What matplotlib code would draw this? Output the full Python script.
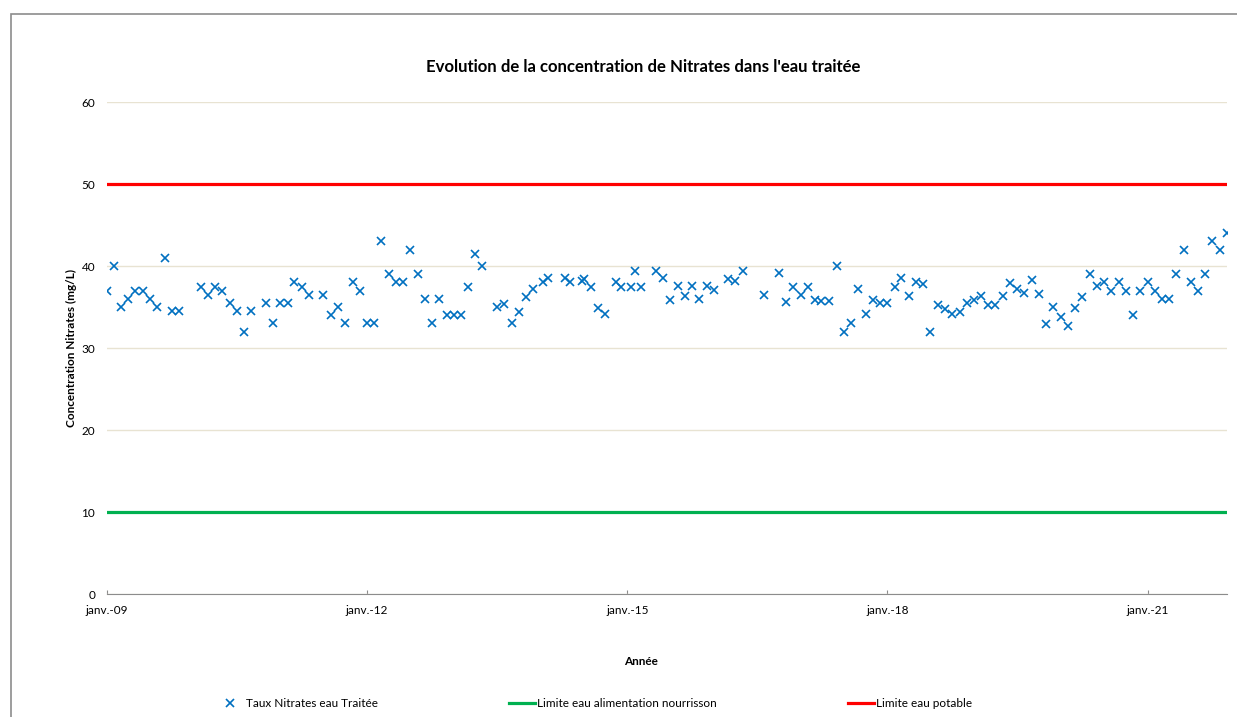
import matplotlib
matplotlib.use('Agg')
import matplotlib.pyplot as plt
import matplotlib.dates as mdates
from matplotlib.patches import Rectangle
import pandas as pd

plt.rcParams['font.family'] = ['Lato', 'DejaVu Sans']

# Dates de prélèvement (mensuel, avec quelques dates intermédiaires)
dates = [
    '2009-01-01', '2009-02-01', '2009-03-01', '2009-04-01', '2009-05-01', '2009-06-01',
    '2009-07-01', '2009-08-01', '2009-09-01', '2009-10-01', '2009-11-01',
    '2010-02-01', '2010-03-01', '2010-04-01', '2010-05-01', '2010-06-01', '2010-07-01',
    '2010-08-01', '2010-09-01', '2010-11-01', '2010-12-01',
    '2011-01-01', '2011-02-01', '2011-03-01', '2011-04-01', '2011-05-01', '2011-07-01',
    '2011-08-01', '2011-09-01', '2011-10-01', '2011-11-01', '2011-12-01',
    '2012-01-01', '2012-02-01', '2012-03-01', '2012-04-01', '2012-05-01', '2012-06-01',
    '2012-07-01', '2012-08-01', '2012-09-01', '2012-10-01', '2012-11-01', '2012-12-01',
    '2013-01-01', '2013-02-01', '2013-03-01', '2013-04-01', '2013-05-01', '2013-07-01',
    '2013-08-01', '2013-09-01', '2013-10-01', '2013-11-01', '2013-12-01',
    '2014-01-13', '2014-02-02', '2014-04-13', '2014-05-07', '2014-06-23', '2014-07-01',
    '2014-08-01', '2014-09-01', '2014-10-01', '2014-11-15', '2014-12-06',
    '2015-01-19', '2015-02-01', '2015-03-01', '2015-05-01', '2015-06-01', '2015-07-01',
    '2015-08-01', '2015-09-01', '2015-10-01', '2015-11-01', '2015-12-01',
    '2016-01-01', '2016-03-01', '2016-04-01', '2016-05-01', '2016-08-01', '2016-10-01',
    '2016-11-01', '2016-12-01',
    '2017-01-01', '2017-02-01', '2017-03-01', '2017-03-26', '2017-05-01', '2017-06-01',
    '2017-07-01', '2017-08-01', '2017-09-01', '2017-10-01', '2017-11-01', '2017-12-01',
    '2018-01-01', '2018-02-01', '2018-03-01', '2018-04-01', '2018-05-01', '2018-06-01',
    '2018-07-01', '2018-08-01', '2018-09-01', '2018-10-01', '2018-11-01', '2018-12-01',
    '2019-01-01', '2019-02-01', '2019-03-01', '2019-04-01', '2019-05-01', '2019-06-01',
    '2019-07-01', '2019-08-01', '2019-09-01', '2019-10-01', '2019-11-01', '2019-12-01',
    '2020-01-01', '2020-02-01', '2020-03-01', '2020-04-01', '2020-05-01', '2020-06-01',
    '2020-07-01', '2020-08-01', '2020-09-01', '2020-10-01', '2020-11-01', '2020-12-01',
    '2021-01-01', '2021-02-01', '2021-03-01', '2021-04-01', '2021-05-01', '2021-06-01',
    '2021-07-01', '2021-08-01', '2021-09-01', '2021-10-01', '2021-11-01', '2021-12-01',
]

# Taux de nitrates mesurés (mg/L)
nitrates = [
    37.0, 40.0, 35.0, 36.0, 37.0, 37.0,
    36.0, 35.0, 41.0, 34.5, 34.5,
    37.5, 36.5, 37.5, 37.0, 35.5, 34.5,
    32.0, 34.5, 35.5, 33.0,
    35.5, 35.5, 38.0, 37.5, 36.5, 36.5,
    34.0, 35.0, 33.0, 38.0, 37.0,
    33.0, 33.0, 43.0, 39.0, 38.0, 38.0,
    42.0, 39.0, 36.0, 33.0, 36.0, 34.0,
    34.0, 34.0, 37.5, 41.5, 40.0, 35.0,
    35.4, 33.0, 34.4, 36.2, 37.2,
    38.1, 38.5, 38.5, 38.05, 38.2, 38.4,
    37.4, 34.9, 34.1, 38.1, 37.5,
    37.5, 39.4, 37.5, 39.35, 38.5, 35.9,
    37.6, 36.3, 37.6, 36.0, 37.6,
    37.1, 38.4, 38.2, 39.35, 36.5, 39.2,
    35.6, 37.5,
    36.5, 37.4, 35.9, 35.7, 35.7, 40.0,
    32.0, 33.1, 37.2, 34.1, 35.8, 35.5,
    35.5, 37.4, 38.6, 36.4, 38.0, 37.8,
    32.0, 35.2, 34.8, 34.1, 34.35, 35.5,
    35.8, 36.3, 35.3, 35.2, 36.3, 37.9,
    37.2, 36.7, 38.25, 36.6, 32.9, 35.0,
    33.8, 32.7, 34.9, 36.2, 39.0, 37.6,
    38.05, 37.0, 38.05, 37.0, 34.0, 37.0,
    38.05, 37.0, 36.0, 36.0, 39.0, 42.0,
    38.05, 37.0, 39.0, 43.0, 42.0, 44.0,
]

# Limites réglementaires (mg/L)
limite_nourrisson = 10
limite_potable = 50

tick_years = [2009, 2012, 2015, 2018, 2021]


def main():
    x = pd.to_datetime(dates)

    fig = plt.figure(figsize=(12.37, 7.17), dpi=100)
    ax = fig.add_axes([0.0865, 0.1715, 0.9054, 0.6862])

    # Cadre du graphique
    fig.patches.append(Rectangle((0.0089, -0.2), 1.5, 0.2 + 0.9805,
                                 transform=fig.transFigure, fill=False,
                                 edgecolor='#8c8c8c', linewidth=1.2))

    ax.plot(x, nitrates, linestyle='none', marker='x', color='#0070C0',
            markersize=5.5, markeredgewidth=1.2, label='Taux Nitrates eau Traitée', zorder=3)
    ax.plot([x[0], x[-1]], [limite_nourrisson] * 2, color='#00B050', linewidth=2.3,
            label='Limite eau alimentation nourrisson', zorder=2)
    ax.plot([x[0], x[-1]], [limite_potable] * 2, color='#FF0000', linewidth=2.3,
            label='Limite eau potable', zorder=2)

    ax.set_xlim(x[0], x[-1])
    ax.set_ylim(0, 60)
    ax.set_yticks(range(0, 61, 10))
    ax.set_xticks([pd.Timestamp(f'{y}-01-01') for y in tick_years])
    ax.xaxis.set_major_formatter(mdates.DateFormatter('janv.-%y'))

    ax.grid(axis='y', color='#E8E3D2', linewidth=1)
    ax.set_axisbelow(True)
    for s in ['top', 'right', 'left']:
        ax.spines[s].set_visible(False)
    ax.spines['bottom'].set_color('#8c8c8c')
    ax.tick_params(axis='y', length=0, pad=8.5, labelsize=8.5)
    ax.tick_params(axis='x', direction='in', length=3, color='#8c8c8c', pad=8, labelsize=8.5)

    fig.text(0.520, 0.906, "Evolution de la concentration de Nitrates dans l'eau traitée",
             ha='center', va='center', fontsize=12.1, fontweight='bold')
    fig.text(0.518, 0.078, 'Année', ha='center', va='center', fontsize=8.5, fontweight='bold')
    fig.text(0.058, 0.515, 'Concentration Nitrates (mg/L)', ha='center', va='center',
             rotation=90, fontsize=8.5, fontweight='bold')

    fig.legend(loc='center left', bbox_to_anchor=(0.1757, 0.019), ncol=3, frameon=False,
               fontsize=8.5, handlelength=2.2, handletextpad=0.2, columnspacing=11.1,
               borderaxespad=0, borderpad=0)

    fig.savefig('out.png', dpi=100)


if __name__ == '__main__':
    main()
